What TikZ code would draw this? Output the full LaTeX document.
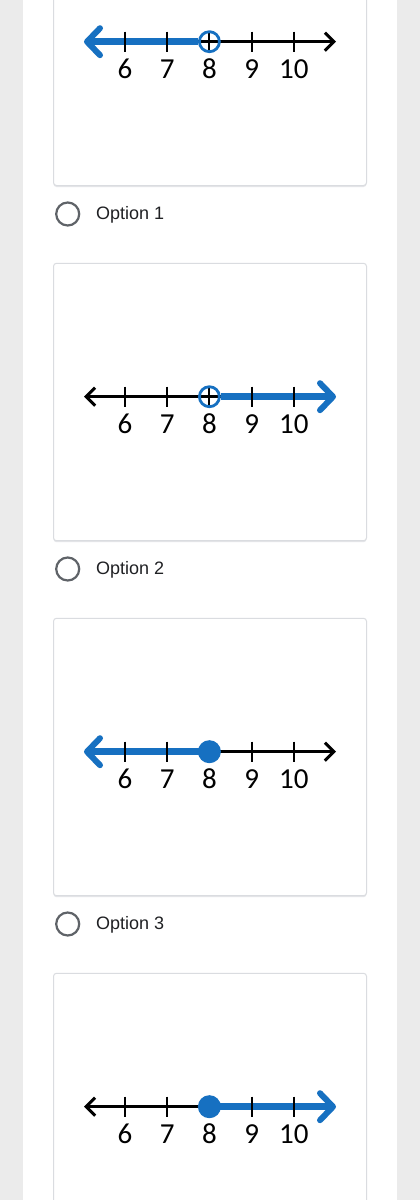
\documentclass[tikz,border=0pt]{standalone}
\usepackage{fontspec}
\setmainfont{Liberation Sans}
\newfontfamily\numfont{Carlito}
\usetikzlibrary{arrows.meta}
\definecolor{ColBlue}{RGB}{22,112,193}
\definecolor{ColPage}{RGB}{235,235,235}
\definecolor{ColCard}{RGB}{218,220,224}
\definecolor{ColRadio}{RGB}{95,99,104}
\definecolor{ColText}{RGB}{32,33,36}
\pgfdeclarelayer{bg}
\pgfsetlayers{bg,main}
\tikzstyle{Card}=[draw=ColCard,fill=white,rounded corners=3pt,line width=1pt]
\tikzstyle{CardShadow}=[fill=ColCard!70,rounded corners=3pt]
\tikzstyle{Tick}=[black,line width=2pt]
\tikzstyle{AxisBlack}=[black,line width=3pt,
  -{Straight Barb[length=9pt,width=18pt,line width=3pt]}]
\tikzstyle{AxisBlue}=[ColBlue,line width=6.5pt,
  -{Straight Barb[length=13pt,width=27pt,line width=6pt,round]}]
\tikzstyle{OpenDot}=[circle,draw=ColBlue,line width=2.8pt,minimum size=20pt,inner sep=0pt]
\tikzstyle{FullDot}=[circle,fill=ColBlue,minimum size=23pt,inner sep=0pt]
\tikzstyle{NumLabel}=[anchor=base,inner sep=0pt,font=\numfont\fontsize{29}{30}\selectfont]
\tikzstyle{Radio}=[circle,draw=ColRadio,line width=2.2pt,minimum size=23pt,inner sep=0pt]
\tikzstyle{OptText}=[anchor=base west,inner sep=0pt,text=ColText,font=\fontsize{18}{20}\selectfont]

\begin{document}
\begin{tikzpicture}[x=1pt,y=-1pt]
        \useasboundingbox (0,0) rectangle (420,1200);
        \clip (0,0) rectangle (420,1200);
        % page and cards
        \begin{pgfonlayer}{bg}
        \fill[ColPage] (0,0) rectangle (420,1200);
        \fill[white] (23,0) rectangle (397,1200);
        \foreach \top/\bot in {-92/185.5,263.3/540.7,618.3/895.7,973.3/1250.7}{
            \fill[CardShadow] (53.5,\top+1) rectangle (366.5,\bot+1.5);
            \draw[Card] (53.5,\top) rectangle (366.5,\bot);
        }
        \end{pgfonlayer}
        % line 1: x < 8
        \coordinate (L1) at (84,41.7);
        \coordinate (R1) at (336,41.7);
        \node[OpenDot] (d1) at (209.4,41.7) {};
        \begin{pgfonlayer}{bg}
        \draw[AxisBlack] (d1.west) -- (R1);
        \draw[AxisBlue] (d1.west) -- (L1);
        \foreach \n in {6,...,10}
            \draw[Tick] ({125+42.2*(\n-6)},31.7) -- ({125+42.2*(\n-6)},51.7);
        \end{pgfonlayer}
        \foreach \n in {6,...,10}
            \node[NumLabel] (a\n) at ({125+42.2*(\n-6)},78.3) {\n};
        \node[Radio] (r1) at (67.7,214) {};
        \node[OptText] (o1) at (96,219.5) {Option 1};
        % line 2: x > 8
        \coordinate (L2) at (84,396.7);
        \coordinate (R2) at (336,396.7);
        \node[OpenDot] (d2) at (209.4,396.7) {};
        \begin{pgfonlayer}{bg}
        \draw[AxisBlack] (d2.east) -- (L2);
        \draw[AxisBlue] (d2.east) -- (R2);
        \foreach \n in {6,...,10}
            \draw[Tick] ({125+42.2*(\n-6)},386.7) -- ({125+42.2*(\n-6)},406.7);
        \end{pgfonlayer}
        \foreach \n in {6,...,10}
            \node[NumLabel] (b\n) at ({125+42.2*(\n-6)},433.3) {\n};
        \node[Radio] (r2) at (67.7,569) {};
        \node[OptText] (o2) at (96,574.5) {Option 2};
        % line 3: x <= 8
        \coordinate (L3) at (84,751.7);
        \coordinate (R3) at (336,751.7);
        \node[FullDot] (d3) at (209.4,751.7) {};
        \begin{pgfonlayer}{bg}
        \draw[AxisBlack] (d3.center) -- (R3);
        \draw[AxisBlue] (d3.center) -- (L3);
        \foreach \n in {6,...,10}
            \draw[Tick] ({125+42.2*(\n-6)},741.7) -- ({125+42.2*(\n-6)},761.7);
        \end{pgfonlayer}
        \foreach \n in {6,...,10}
            \node[NumLabel] (c\n) at ({125+42.2*(\n-6)},788.3) {\n};
        \node[Radio] (r3) at (67.7,924) {};
        \node[OptText] (o3) at (96,929.5) {Option 3};
        % line 4: x >= 8
        \coordinate (L4) at (84,1106.7);
        \coordinate (R4) at (336,1106.7);
        \node[FullDot] (d4) at (209.4,1106.7) {};
        \begin{pgfonlayer}{bg}
        \draw[AxisBlack] (d4.center) -- (L4);
        \draw[AxisBlue] (d4.center) -- (R4);
        \foreach \n in {6,...,10}
            \draw[Tick] ({125+42.2*(\n-6)},1096.7) -- ({125+42.2*(\n-6)},1116.7);
        \end{pgfonlayer}
        \foreach \n in {6,...,10}
            \node[NumLabel] (e\n) at ({125+42.2*(\n-6)},1143.3) {\n};
    \end{tikzpicture}
\end{document}
